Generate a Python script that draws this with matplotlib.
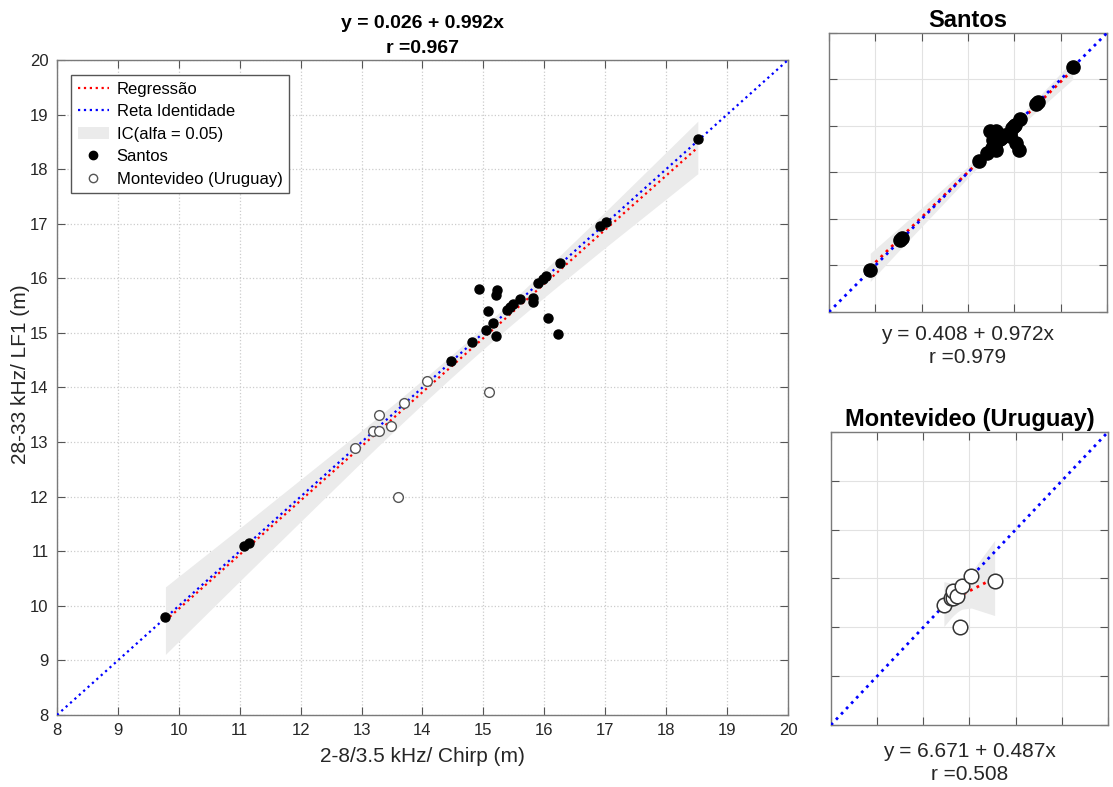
import matplotlib
matplotlib.use("Agg")
import matplotlib.pyplot as plt
import numpy as np
from matplotlib.patches import Patch
from matplotlib.lines import Line2D

plt.rcParams["font.family"] = ["Liberation Sans", "DejaVu Sans"]

# Depth readings (m): chirp (2-8/3.5 kHz) vs LF1 (28-33 kHz)
santos_x = [9.78, 11.07, 11.15, 14.46, 14.82, 14.93, 15.04, 15.08, 15.15, 15.21, 15.21,
            15.23, 15.38, 15.44, 15.49, 15.60, 15.81, 15.81, 15.90, 15.97, 16.03, 16.06,
            16.22, 16.26, 16.92, 17.01, 18.52]
santos_y = [9.79, 11.09, 11.16, 14.49, 14.84, 15.80, 15.05, 15.40, 15.19, 15.70, 14.95,
            15.79, 15.42, 15.48, 15.53, 15.62, 15.64, 15.56, 15.92, 15.98, 16.04, 15.28,
            14.98, 16.28, 16.95, 17.04, 18.55]
monte_x = [12.89, 13.18, 13.29, 13.29, 13.48, 13.69, 14.08, 15.09, 13.59]
monte_y = [12.90, 13.21, 13.21, 13.50, 13.30, 13.71, 14.11, 13.91, 12.00]

# Regression coefficients (intercept, slope) and correlation
fit_all = (0.026, 0.992, 0.967)
fit_santos = (0.408, 0.972, 0.979)
fit_monte = (6.671, 0.487, 0.508)

# simultaneous band multiplier sqrt(2*F(0.95; 2, n-2)), keyed by n-2
crit = {34: 2.560, 25: 2.602, 7: 3.078}

lims = (8, 20)
band_color = "#ebebeb"


def ci_band(x, y, a, b):
    x = np.asarray(x, float)
    y = np.asarray(y, float)
    n = len(x)
    xm = x.mean()
    sxx = ((x - xm) ** 2).sum()
    s = np.sqrt(((y - (a + b * x)) ** 2).sum() / (n - 2))
    xs = np.unique(x)
    h = crit[n - 2] * s * np.sqrt(1 / n + (xs - xm) ** 2 / sxx)
    yf = a + b * xs
    return xs, yf - h, yf + h


def draw_panel(ax, xs_list, ys_list, fit, lw, grid_style):
    a, b, r = fit
    x = np.concatenate([np.asarray(v, float) for v in xs_list])
    y = np.concatenate([np.asarray(v, float) for v in ys_list])
    bx, lo, hi = ci_band(x, y, a, b)
    ax.fill_between(bx, lo, hi, color=band_color, lw=0, zorder=1)
    xr = np.array([x.min(), x.max()])
    ax.plot(xr, a + b * xr, ":", color="red", lw=lw, zorder=2)
    ax.plot(lims, lims, ":", color="blue", lw=lw, zorder=3)
    ax.set_xlim(lims)
    ax.set_ylim(lims)
    ax.grid(True, **grid_style)
    ax.set_axisbelow(True)
    ax.tick_params(direction="in", top=True, right=True, length=6, colors="#555555")
    for sp in ax.spines.values():
        sp.set_color("#7a7a7a")
        sp.set_linewidth(1.0)


fig = plt.figure(figsize=(11.13, 7.87), dpi=100)

# main panel, both sites together
ax = fig.add_axes([0.0512, 0.0915, 0.6568, 0.8323])
draw_panel(ax, [santos_x, monte_x], [santos_y, monte_y], fit_all, 1.6,
           dict(linestyle=":", color="#cccccc", lw=0.9))
ax.plot(santos_x, santos_y, "o", color="black", ms=6.5, zorder=4)
ax.plot(monte_x, monte_y, "o", mfc="white", mec="#555555", mew=1.0, ms=7, zorder=4)
ax.set_xticks(range(8, 21))
ax.set_yticks(range(8, 21))
ax.tick_params(labelsize=12, labelcolor="#262626", pad=6)
ax.set_xlabel("2-8/3.5 kHz/ Chirp (m)", fontsize=15, color="#262626", labelpad=6)
ax.set_ylabel("28-33 kHz/ LF1 (m)", fontsize=15, color="#262626")
ax.yaxis.set_label_coords(-0.037, 0.52)
ax.set_title("y = %.3f + %.3fx\nr =%.3f" % fit_all, fontsize=14, fontweight="bold",
             linespacing=1.6, pad=5)

handles = [
    Line2D([], [], ls=":", color="red", lw=1.6),
    Line2D([], [], ls=":", color="blue", lw=1.6),
    Patch(facecolor=band_color, edgecolor="none"),
    Line2D([], [], ls="", marker="o", color="black", ms=6),
    Line2D([], [], ls="", marker="o", mfc="white", mec="#555555", ms=6),
]
labels = ["Regressão", "Reta Identidade", "IC(alfa = 0.05)", "Santos", "Montevideo (Uruguay)"]
leg = ax.legend(handles, labels, loc="upper left", bbox_to_anchor=(0.019, 0.977),
                fontsize=12, fancybox=False, framealpha=1, edgecolor="#555555",
                handlelength=1.9, handletextpad=0.45, borderpad=0.4, labelspacing=0.45,
                borderaxespad=0)
leg.get_frame().set_linewidth(1.0)

sub_grid = dict(linestyle="-", color="#e2e2e2", lw=0.8)

# Santos panel
ax_s = fig.add_axes([0.7448, 0.6036, 0.2498, 0.3545])
draw_panel(ax_s, [santos_x], [santos_y], fit_santos, 2.0, sub_grid)
ax_s.plot(santos_x, santos_y, "o", color="black", ms=9.5, zorder=4)
ax_s.set_xticks(range(8, 21, 2))
ax_s.set_yticks(range(8, 21, 2))
ax_s.set_xticklabels([])
ax_s.set_yticklabels([])
ax_s.set_title("Santos", fontsize=17, fontweight="bold", pad=4)
ax_s.set_xlabel("y = %.3f + %.3fx\nr =%.3f" % fit_santos, fontsize=15,
                color="#262626", labelpad=6, linespacing=1.25)

# Montevideo panel
ax_m = fig.add_axes([0.7466, 0.0788, 0.2489, 0.3723])
draw_panel(ax_m, [monte_x], [monte_y], fit_monte, 2.0, sub_grid)
ax_m.plot(monte_x, monte_y, "o", mfc="white", mec="#333333", mew=1.1, ms=10.5, zorder=4)
ax_m.set_xticks(range(8, 21, 2))
ax_m.set_yticks(range(8, 21, 2))
ax_m.set_xticklabels([])
ax_m.set_yticklabels([])
ax_m.set_title("Montevideo (Uruguay)", fontsize=17, fontweight="bold", pad=4)
ax_m.set_xlabel("y = %.3f + %.3fx\nr =%.3f" % fit_monte, fontsize=15,
                color="#262626", labelpad=9, linespacing=1.25)

fig.savefig("out.png", dpi=100)
